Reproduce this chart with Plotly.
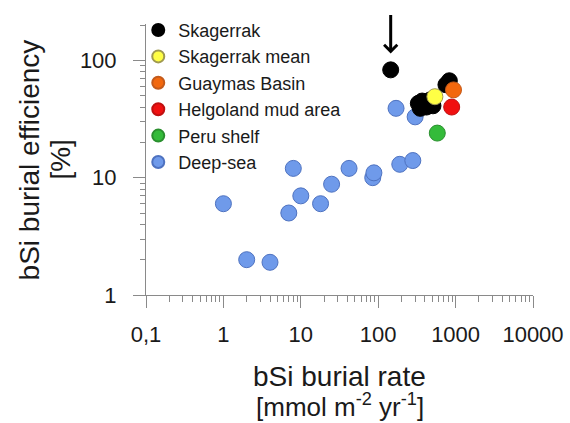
import numpy as np
import plotly.graph_objects as go

# bSi burial rate [mmol m-2 yr-1] and burial efficiency [%] per data set
deep_sea_rate = [1, 2, 4, 7, 8, 10, 18, 25, 42, 85, 88, 170, 190, 280, 300]
deep_sea_eff = [6, 2, 1.9, 5, 12, 7, 6, 8.8, 12, 10, 11, 39, 13, 14, 33]

skagerrak_rate = [145, 330, 350, 370, 420, 470, 510, 750, 830]
skagerrak_eff = [83, 43, 39, 45, 40, 46, 41, 62, 67]

skagerrak_mean_rate = [540]
skagerrak_mean_eff = [49]

guaymas_rate = [940]
guaymas_eff = [56]

helgoland_rate = [890]
helgoland_eff = [40]

peru_rate = [580]
peru_eff = [24]

x_tickvals = [0.1, 1, 10, 100, 1000, 10000]
x_ticktext = ["0,1", "1", "10", "100", "1000", "10000"]
y_tickvals = [1, 10, 100]
y_ticktext = ["1", "10", "100"]

x_title_lines = ["bSi burial rate",
                 "[mmol m<sup>-2</sup> yr<sup>-1</sup>]"]
y_title_lines = ["bSi burial efficiency", "[%]"]

FONT = "Liberation Sans, Arial, sans-serif"
AXIS_GREY = "#8a8a8a"
TEXT = "#1a1a1a"

series = [
    # name, x, y, fill, outline, legend rank
    ("Deep-sea", deep_sea_rate, deep_sea_eff, "#6f9aea", "#4e72c0", 6),
    ("Skagerrak", skagerrak_rate, skagerrak_eff, "#000000", "#000000", 1),
    ("Skagerrak mean", skagerrak_mean_rate, skagerrak_mean_eff, "#ffff45", "#a09a50", 2),
    ("Guaymas Basin", guaymas_rate, guaymas_eff, "#f2680e", "#c45a1a", 3),
    ("Helgoland mud area", helgoland_rate, helgoland_eff, "#f01010", "#c01010", 4),
    ("Peru shelf", peru_rate, peru_eff, "#34bb3a", "#2a8f2e", 5),
]

fig = go.Figure()
for name, xs, ys, fill, edge, rank in series:
    fig.add_trace(go.Scatter(
        x=xs, y=ys, mode="markers", name=name, legendrank=rank,
        marker=dict(size=16, color=fill, line=dict(color=edge, width=1)),
    ))

# arrow pointing at the outlying Skagerrak station
fig.add_annotation(
    x=np.log10(skagerrak_rate[0]), y=np.log10(skagerrak_eff[0]) + 0.14,
    xref="x", yref="y", text="", showarrow=True,
    axref="pixel", ayref="pixel", ax=0, ay=-40,
    arrowhead=4, arrowwidth=3, arrowsize=0.85, arrowcolor="#000000",
)

# axis titles, one annotation per line for tight line spacing
for text, ypos, size in zip(x_title_lines, [-0.300, -0.408], [28, 26]):
    fig.add_annotation(
        x=0.5, y=ypos, xref="paper", yref="paper",
        xanchor="center", yanchor="middle", showarrow=False,
        text=text, font=dict(family=FONT, size=size, color=TEXT),
    )
for text, xpos in zip(y_title_lines, [-0.300, -0.222]):
    fig.add_annotation(
        x=xpos, y=0.5, xref="paper", yref="paper",
        xanchor="center", yanchor="middle", showarrow=False, textangle=-90,
        text=text, font=dict(family=FONT, size=28, color=TEXT),
    )

minor_x = [m * 10.0 ** e for e in range(-1, 4) for m in range(2, 10)]
minor_y = [m * 10.0 ** e for e in range(0, 3) for m in range(2, 10)
           if m * 10.0 ** e <= 200]

fig.update_xaxes(
    type="log", range=[-1, 4],
    tickvals=x_tickvals, ticktext=x_ticktext,
    ticks="outside", ticklen=12, tickcolor=AXIS_GREY, tickwidth=1,
    ticklabelstandoff=8,
    showline=True, linecolor=AXIS_GREY, linewidth=1,
    showgrid=False, zeroline=False,
    minor=dict(tickvals=minor_x, ticks="outside", ticklen=6,
               tickcolor=AXIS_GREY, showgrid=False),
    tickfont=dict(family=FONT, size=22, color=TEXT),
)
fig.update_yaxes(
    type="log", range=[0, 2.31],
    tickvals=y_tickvals, ticktext=y_ticktext,
    ticks="outside", ticklen=12, tickcolor=AXIS_GREY, tickwidth=1,
    ticklabelstandoff=12,
    showline=True, linecolor=AXIS_GREY, linewidth=1,
    showgrid=False, zeroline=False,
    minor=dict(tickvals=minor_y, ticks="outside", ticklen=5,
               tickcolor=AXIS_GREY, showgrid=False),
    tickfont=dict(family=FONT, size=22, color=TEXT),
)

fig.update_layout(
    width=570, height=423,
    margin=dict(l=146, r=37, t=24, b=128, autoexpand=False),
    paper_bgcolor="white", plot_bgcolor="white",
    showlegend=True,
    legend=dict(
        x=-0.02, y=1.045, xanchor="left", yanchor="top",
        bgcolor="rgba(0,0,0,0)", borderwidth=0,
        font=dict(family=FONT, size=18, color=TEXT),
        itemsizing="constant", tracegroupgap=0,
    ),
)

fig.write_html("out.html")
